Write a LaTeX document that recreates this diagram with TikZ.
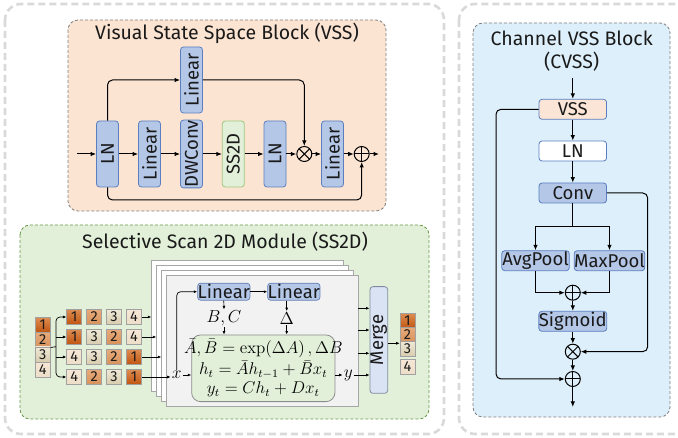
\documentclass[tikz,border=0pt]{standalone}
\usepackage{amsmath}
\usepackage{graphicx}
\usepackage[no-math]{fontspec}
\setmainfont{Fira Sans}
\usetikzlibrary{arrows.meta,calc}
\definecolor{outerg}{HTML}{D9D9D9}
\definecolor{orfill}{HTML}{FCE4D2}
\definecolor{grfill}{HTML}{E2F0D9}
\definecolor{grline}{HTML}{6A9A4A}
\definecolor{blfill}{HTML}{DDEFFA}
\definecolor{dashg}{HTML}{7F7F7F}
\definecolor{nodefill}{HTML}{B4C7E7}
\definecolor{nodeline}{HTML}{5A7EC0}
\definecolor{ssfill}{HTML}{E2F0D9}
\definecolor{ssline}{HTML}{9CC97E}
\definecolor{mergefill}{HTML}{DAE3F3}
\definecolor{mergeline}{HTML}{7F8C9F}
\definecolor{panelline}{HTML}{A6A6A6}
\definecolor{panelfront}{HTML}{F2F2F2}
\definecolor{txt}{HTML}{1A1A1A}
\definecolor{vssfill}{HTML}{FBE5D6}
\definecolor{cellline}{HTML}{A0A0A0}
\definecolor{eqline}{HTML}{8C8C8C}
\tikzset{
  outer/.style={draw=outerg, line width=2.6pt, dash pattern=on 7pt off 4pt, rounded corners=16pt},
  grp/.style={line width=0.8pt, dash pattern=on 3pt off 2pt, rounded corners=10pt},
  vnode/.style={draw=nodeline, fill=nodefill, line width=0.8pt, rounded corners=3pt, minimum width=22pt, minimum height=66pt, inner sep=0pt, text=txt},
  hnode/.style={draw=nodeline, fill=nodefill, line width=0.8pt, rounded corners=3pt, minimum width=67.5pt, minimum height=20pt, inner sep=0pt, text=txt},
  smnode/.style={draw=nodeline!80!gray, fill=nodefill, line width=0.7pt, rounded corners=3pt, minimum width=51pt, minimum height=17pt, inner sep=0pt, text=txt},
  arr/.style={-{Latex[length=5.5pt,width=4.5pt]}, line width=1pt},
  sarr/.style={-{Latex[length=3.5pt,width=3pt]}, line width=0.7pt},
  opl/.style={circle, draw, line width=1pt, minimum size=15pt, inner sep=0pt,
    path picture={\draw[line width=1pt] (path picture bounding box.north) -- (path picture bounding box.south) (path picture bounding box.west) -- (path picture bounding box.east);}},
  otm/.style={circle, draw, line width=1pt, minimum size=15pt, inner sep=0pt,
    path picture={\draw[line width=1pt] (path picture bounding box.north west) -- (path picture bounding box.south east) (path picture bounding box.north east) -- (path picture bounding box.south west);}},
  panel/.style={draw=panelline, fill=white, line width=0.8pt, minimum width=191.6pt, minimum height=131pt, inner sep=0pt},
  cell/.style={draw=cellline, line width=0.6pt, minimum width=15pt, minimum height=15pt, inner sep=0pt, font=\fontsize{14.5}{14.5}\selectfont, text=txt},
  ca/.style={cell, top color={rgb,255:red,222;green,140;blue,80}, bottom color={rgb,255:red,192;green,84;blue,16}},
  cb/.style={cell, top color={rgb,255:red,232;green,170;blue,122}, bottom color={rgb,255:red,214;green,146;blue,92}},
  cc/.style={cell, top color={rgb,255:red,238;green,232;blue,214}, bottom color={rgb,255:red,216;green,204;blue,174}},
  cd/.style={cell, top color={rgb,255:red,246;green,230;blue,214}, bottom color={rgb,255:red,236;green,222;blue,200}},
  ttl/.style={font=\fontsize{19.5}{21}\selectfont, text=txt, inner sep=0pt},
  mth/.style={inner sep=1pt, font=\fontsize{12}{14}\selectfont},
}
\newcommand{\mymath}[1]{\scalebox{1.45}{$#1$}}
\begin{document}
\begin{tikzpicture}[x=1pt,y=-1pt,font=\fontsize{18.5}{20}\selectfont]
\useasboundingbox (0,0) rectangle (678,438);
\clip (0,0) rectangle (678,438);
% outer panels
\draw[outer] (5,4) rectangle (444,434);
\draw[outer] (459,4) rectangle (700,434);
% group boxes
\draw[grp, draw=dashg, fill=orfill] (68,20) rectangle (386,211);
\draw[grp, draw=grline, fill=grfill] (20,225) rectangle (429,419);
\draw[grp, draw=dashg, fill=blfill] (473,23) rectangle (670,417);

% ===== VSS block =====
\node[ttl] (t1) at (227,33) {Visual State Space Block (VSS)};
\coordinate (vin) at (77,154);
\coordinate (vout) at (379,154);
\coordinate (vbot) at (0,200);
\node[vnode] (ln1) at (107.5,154) {\rotatebox{90}{LN}};
\node[vnode] (lin1) at (149.5,154) {\rotatebox{90}{Linear}};
\node[vnode] (dw) at (191.5,154) {\rotatebox{90}{DWConv}};
\node[vnode, fill=ssfill, draw=ssline] (ss) at (233.3,154) {\rotatebox{90}{SS2D}};
\node[vnode] (ln2) at (275,154) {\rotatebox{90}{LN}};
\node[otm] (mul1) at (304.3,154) {};
\node[vnode] (lin2) at (332.5,154) {\rotatebox{90}{Linear}};
\node[opl] (add1) at (361.7,154) {};
\node[vnode] (tlin) at (191.5,80) {\rotatebox{90}{Linear}};
\draw[arr] (vin) -- (ln1);
\draw[arr] (ln1) -- (lin1);
\draw[arr] (lin1) -- (dw);
\draw[arr] (dw) -- (ss);
\draw[arr] (ss) -- (ln2);
\draw[arr] (ln2) -- (mul1);
\draw[arr] (mul1) -- (lin2);
\draw[arr] (lin2) -- (add1);
\draw[arr] (add1) -- (vout);
\draw[arr, rounded corners=5pt] (ln1.north) |- (tlin.west);
\draw[arr, rounded corners=5pt] (tlin.east) -| (mul1.north);
\draw[arr, rounded corners=5pt] (ln1.south) -- (ln1.south |- vbot) -| (add1.south);

% ===== SS2D =====
\node[ttl] (t2) at (225,241.7) {Selective Scan 2D Module (SS2D)};
\node[panel] (p1) at (247.5,326.2) {};
\node[panel] (p2) at (252.5,331.2) {};
\node[panel] (p3) at (257.5,336.2) {};
\node[panel, fill=panelfront] (p4) at (262.5,341.2) {};
% input column
\node[ca] (i1) at (42.8,325) {1};
\node[cb] (i2) at (42.8,339.7) {2};
\node[cc] (i3) at (42.8,354.4) {3};
\node[cd] (i4) at (42.8,370) {4};
% rows
\node[ca] (a1) at (74.2,317) {1};
\node[cb] (a2) at (94.2,317) {2};
\node[cc] (a3) at (114,317) {3};
\node[cd] (a4) at (134,317) {4};
\node[ca] (b1) at (74.2,337) {1};
\node[cc] (b2) at (94.2,337) {3};
\node[cb] (b3) at (114,337) {2};
\node[cd] (b4) at (134,337) {4};
\node[cd] (c1) at (74.2,357) {4};
\node[cc] (c2) at (94.2,357) {3};
\node[cb] (c3) at (114,357) {2};
\node[ca] (c4) at (134,357) {1};
\node[cd] (d1) at (74.2,377) {4};
\node[cb] (d2) at (94.2,377) {2};
\node[cc] (d3) at (114,377) {3};
\node[ca] (d4) at (134,377) {1};
\coordinate (br) at (56,346.7);
\draw[line width=0.7pt] (i2.south east) -- (br);
\draw[sarr, rounded corners=4pt] (br) |- (a1.west);
\draw[sarr] (br |- b1) -- (b1.west);
\draw[sarr] (br |- c1) -- (c1.west);
\draw[sarr, rounded corners=4pt] (br) |- (d1.west);
% inside front panel
\node[smnode] (la) at (223.8,291.7) {Linear};
\node[smnode] (lb) at (293.8,291.7) {Linear};
\node[mth] (bc) at (224,318.3) {\mymath{B,C}};
\node[mth] (dl) at (286.7,318.3) {\mymath{\Delta}};
\node[draw=eqline, fill=grfill, line width=0.8pt, rounded corners=9pt, minimum width=143.3pt, minimum height=66.7pt, inner sep=0pt] (eq) at (263.3,368.3) {};
\node[mth, inner sep=0pt] (eqt) at (263.3,369.5) {\scalebox{1.42}{\begin{tabular}{@{}c@{}}$\bar{A},\bar{B}=\exp(\Delta A)\,,\Delta B$\\[1pt]$h_t=\bar{A}h_{t-1}+\bar{B}x_t$\\[-0.5pt]$y_t=Ch_t+Dx_t$\end{tabular}}};
\node[mth] (xn) at (176.7,375) {\mymath{x}};
\node[mth] (yn) at (348.3,375) {\mymath{y}};
\node[draw=mergeline, fill=mergefill, line width=0.8pt, rounded corners=3pt, minimum width=17.7pt, minimum height=106.7pt, inner sep=0pt, text=txt] (mg) at (378.8,340) {\rotatebox{90}{Merge}};
% output column
\node[ca] (o1) at (407.5,321) {1};
\node[cb] (o2) at (407.5,335) {2};
\node[cc] (o3) at (407.5,349) {3};
\node[cd] (o4) at (407.5,366.6) {4};
% arrows SS2D
\draw[sarr] (a4.east) -- (a4.east -| p1.west);
\draw[sarr] (b4.east) -- (b4.east -| p2.west);
\draw[sarr] (c4.east) -- (c4.east -| p3.west);
\draw[sarr] (d4.east) -- (d4.east -| xn.west);
\draw[sarr] (xn.east) -- (xn.east -| eq.west);
\draw[sarr, rounded corners=4pt] (xn.north) |- (la.west);
\draw[sarr] (la.east) -- (lb.west);
\draw[sarr] (la.south) -- (bc.north);
\draw[sarr] (lb.south -| dl) -- (dl.north);
\draw[sarr] (bc.south) -- (bc.south |- eq.north);
\draw[sarr] (dl.south) -- (dl.south |- eq.north);
\draw[sarr] (yn.west -| eq.east) -- (yn.west);
\draw[sarr] (yn.east) -- (yn.east -| mg.west);
\coordinate (m1) at (358.3,308.3);
\coordinate (m2) at (358.3,330);
\coordinate (m3) at (358.3,353.3);
\draw[sarr] (m1) -- (m1 -| mg.west);
\draw[sarr] (m2) -- (m2 -| mg.west);
\draw[sarr] (m3) -- (m3 -| mg.west);
\coordinate (mo) at (0,343.3);
\draw[sarr] (mg.east |- mo) -- (mo -| o3.west);

% ===== CVSS =====
\node[ttl] (t3a) at (571.7,38.3) {Channel VSS Block};
\node[ttl] (t3b) at (571.7,61.7) {(CVSS)};
\coordinate (cin) at (572.8,78.3);
\coordinate (cout) at (572.8,407);
\coordinate (split) at (0,226.7);
\coordinate (rx) at (647.7,0);
\coordinate (lx) at (496,0);
\node[hnode, fill=vssfill] (vss) at (572.8,109.3) {VSS};
\node[hnode, fill=white] (cln) at (572.8,151) {LN};
\node[hnode] (conv) at (572.8,193) {Conv};
\node[hnode] (avg) at (535.5,260.7) {AvgPool};
\node[hnode] (max) at (609.5,260.7) {MaxPool};
\node[opl] (cadd1) at (572.8,292.7) {};
\node[hnode] (sig) at (572.8,321.3) {Sigmoid};
\node[otm] (cmul) at (572.8,351.7) {};
\node[opl] (cadd2) at (572.8,379) {};
\draw[arr] (cin) -- (vss);
\draw[arr] (vss) -- (cln);
\draw[arr] (cln) -- (conv);
\draw[line width=1pt] (conv.south) -- (conv.south |- split);
\draw[arr] (conv.south |- split) -| (avg.north);
\draw[arr] (conv.south |- split) -| (max.north);
\draw[arr] (avg.south) |- (cadd1.west);
\draw[arr] (max.south) |- (cadd1.east);
\draw[arr] (cadd1) -- (sig);
\draw[arr] (sig) -- (cmul);
\draw[arr] (cmul) -- (cadd2);
\draw[arr] (cadd2) -- (cout);
\draw[arr, rounded corners=5pt] (conv.east) -- (conv.east -| rx) |- (cmul.east);
\draw[arr, rounded corners=5pt] (vss.west) -- (vss.west -| lx) |- (cadd2.west);
\end{tikzpicture}
\end{document}
